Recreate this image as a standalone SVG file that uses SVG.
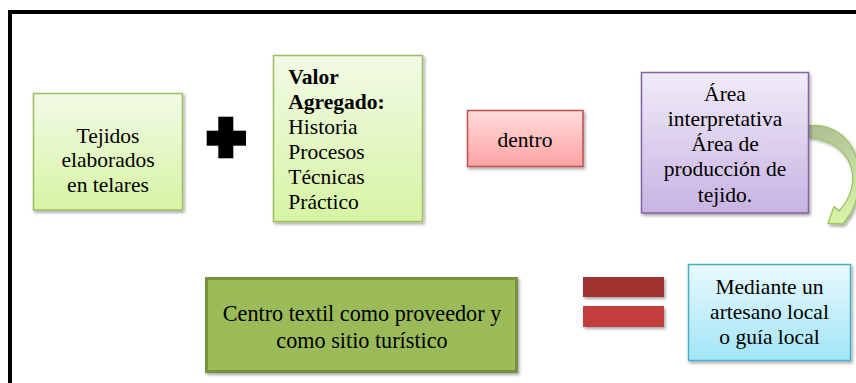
<svg xmlns="http://www.w3.org/2000/svg" width="856" height="383" viewBox="0 0 856 383">
<defs>
<linearGradient id="gGreen" x1="0" y1="0" x2="0" y2="1"><stop offset="0" stop-color="#f2fae6"/><stop offset="1" stop-color="#d6f4a4"/></linearGradient>
<linearGradient id="gRed" x1="0" y1="0" x2="0" y2="1"><stop offset="0" stop-color="#ffdddd"/><stop offset="1" stop-color="#ffa2a2"/></linearGradient>
<linearGradient id="gPurple" x1="0" y1="0" x2="0" y2="1"><stop offset="0" stop-color="#f1ecf8"/><stop offset="1" stop-color="#c7b3e2"/></linearGradient>
<linearGradient id="gBlue" x1="0" y1="0" x2="0" y2="1"><stop offset="0" stop-color="#e9f9fd"/><stop offset="1" stop-color="#a2e5f8"/></linearGradient>
<linearGradient id="gArrow" gradientUnits="userSpaceOnUse" x1="810" y1="126" x2="840" y2="222"><stop offset="0" stop-color="#aebf96"/><stop offset="1" stop-color="#d8f4a6"/></linearGradient>
<filter id="sh" x="-10%" y="-10%" width="130%" height="130%"><feDropShadow dx="1.5" dy="2" stdDeviation="1.5" flood-color="#000" flood-opacity="0.35"/></filter>
</defs>
<style>
text{font-family:"Liberation Serif","Times New Roman",Tinos,"DejaVu Serif",serif;font-size:21.5px;fill:#000}
.c{text-anchor:middle}
.b{font-weight:bold}
.gbox{fill:url(#gGreen);stroke:#9fbf62;stroke-width:1.5}
</style>
<rect x="0" y="0" width="856" height="383" fill="#fff"/>
<rect id="frame" x="10" y="12" width="900" height="420" fill="none" stroke="#000" stroke-width="4"/>

<g id="connectors">
<path d="M807,126 C852,120 872,170 851,213 L843,224 L828,223.5 L834,206.5 L839,211 C866,182 852,140 808,137 Z" fill="url(#gArrow)" stroke="#9fc463" stroke-width="1.3" stroke-linejoin="round" filter="url(#sh)"/>
</g>

<g id="n-tejidos">
<rect class="gbox" x="33.5" y="93.5" width="149" height="116.5" filter="url(#sh)"/>
<text class="c" x="108" y="142.5">Tejidos</text>
<text class="c" x="108" y="167">elaborados</text>
<text class="c" x="108" y="191.5">en telares</text>
</g>

<g id="n-plus">
<rect x="206.7" y="130.7" width="39.3" height="15" fill="#000"/>
<rect x="218.3" y="116.7" width="15" height="41.6" fill="#000"/>
</g>

<g id="n-valor">
<rect class="gbox" x="273.5" y="55.5" width="149" height="166" filter="url(#sh)"/>
<text class="b" x="288.3" y="84">Valor</text>
<text class="b" x="288.3" y="108.5">Agregado:</text>
<text x="288.3" y="134">Historia</text>
<text x="288.3" y="159">Procesos</text>
<text x="288.3" y="184">Técnicas</text>
<text x="288.3" y="209">Práctico</text>
</g>

<g id="n-dentro">
<rect x="467.5" y="110.5" width="115.5" height="56" fill="url(#gRed)" stroke="#c0504d" stroke-width="1.5" filter="url(#sh)"/>
<text class="c" x="525" y="146.7">dentro</text>
</g>

<g id="n-area">
<rect x="641.5" y="72.5" width="167" height="140.5" fill="url(#gPurple)" stroke="#8064a2" stroke-width="1.5" filter="url(#sh)"/>
<text class="c" x="725" y="100.5">Área</text>
<text class="c" x="725" y="125.8">interpretativa</text>
<text class="c" x="725" y="151">Área de</text>
<text class="c" x="725" y="176.3">producción de</text>
<text class="c" x="725" y="201.5">tejido.</text>
</g>

<g id="n-centro">
<rect x="206.5" y="278.5" width="310" height="93" fill="#9bbb59" stroke="#76923c" stroke-width="3" filter="url(#sh)"/>
<text class="c" x="362" y="320.7" style="font-size:22.2px">Centro textil como proveedor y</text>
<text class="c" x="362" y="347.5" style="font-size:22.2px">como sitio turístico</text>
</g>

<g id="n-equals">
<rect x="583" y="277" width="81" height="20" fill="#a33131" filter="url(#sh)"/>
<rect x="583" y="306" width="81" height="21" fill="#c43d3d" filter="url(#sh)"/>
</g>

<g id="n-mediante">
<rect x="688.5" y="264.5" width="162" height="96" fill="url(#gBlue)" stroke="#4bacc6" stroke-width="1.5" filter="url(#sh)"/>
<text class="c" x="769.5" y="294.3">Mediante un</text>
<text class="c" x="769.5" y="319">artesano local</text>
<text class="c" x="769.5" y="344.3">o guía local</text>
</g>
</svg>
